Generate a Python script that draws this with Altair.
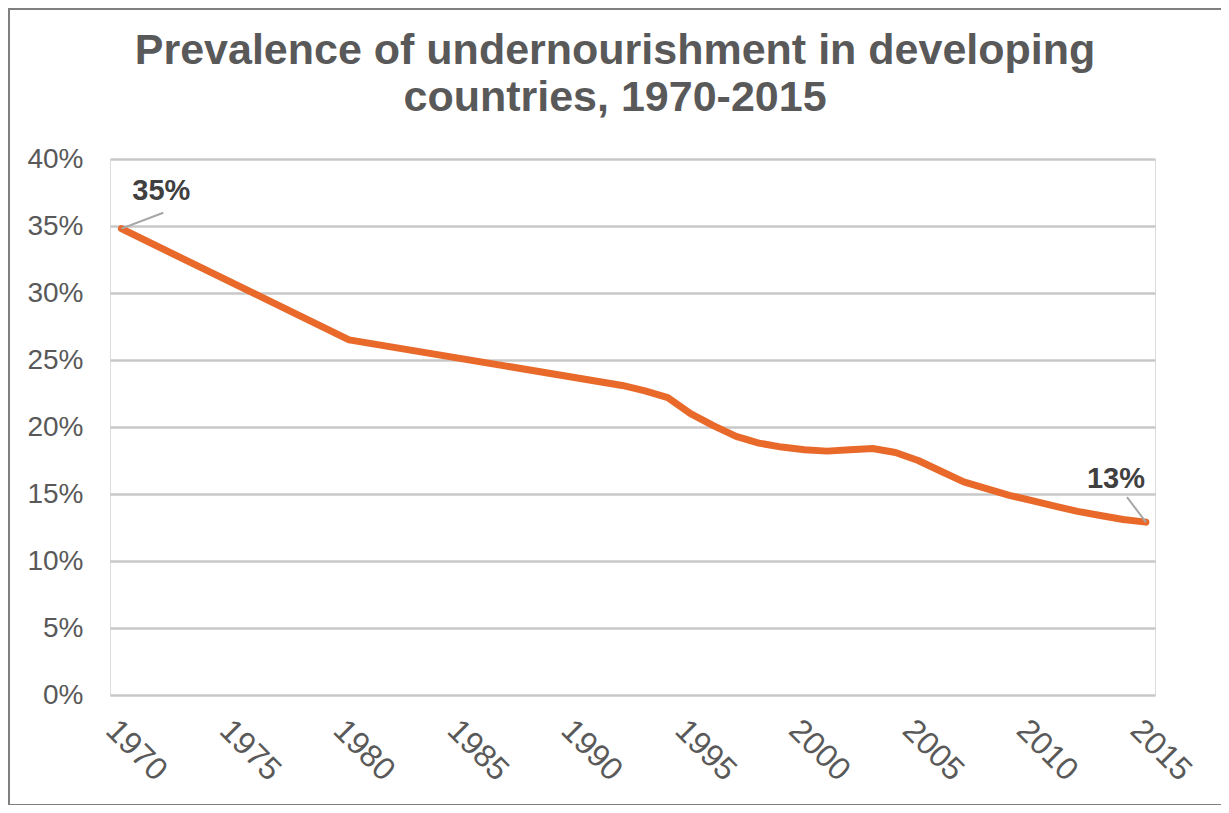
import altair as alt
import pandas as pd

years = [1970, 1980, 1992, 1993, 1994, 1995, 1996, 1997, 1998, 1999, 2000,
         2001, 2002, 2003, 2004, 2005, 2006, 2007, 2008, 2009, 2010, 2011,
         2012, 2013, 2014, 2015]
values = [0.348, 0.265, 0.231, 0.227, 0.222, 0.210, 0.201, 0.193, 0.188,
          0.185, 0.183, 0.182, 0.183, 0.184, 0.181, 0.175, 0.167, 0.159,
          0.154, 0.149, 0.145, 0.141, 0.137, 0.134, 0.131, 0.129]
x_ticks = [1970, 1975, 1980, 1985, 1990, 1995, 2000, 2005, 2010, 2015]
y_ticks = [0, 0.05, 0.10, 0.15, 0.20, 0.25, 0.30, 0.35, 0.40]
label_years = [1970, 2015]
title_lines = ["Prevalence of undernourishment in developing",
               "countries, 1970-2015"]

df = pd.DataFrame({"year": years, "value": values})
lab = df[df["year"].isin(label_years)].copy()

FONT = "Liberation Sans"
GREY = "#595959"

xs = alt.Scale(domain=[1969.5, 2015.4], nice=False, zero=False)
ys = alt.Scale(domain=[0, 0.4], nice=False)

x_axis = alt.Axis(values=x_ticks, format="d", labelAngle=45, labelAlign="left",
                  labelBaseline="top", labelPadding=19, ticks=False, domain=False,
                  grid=False, title=None, labelFontSize=32, labelColor=GREY,
                  labelFont=FONT, labelOverlap=False, labelFlush=False)
y_axis = alt.Axis(values=y_ticks, format=".0%", ticks=False, domain=False,
                  grid=True, gridColor="#c8c8c8", gridWidth=2.5, title=None,
                  labelFontSize=28, labelColor=GREY, labelFont=FONT,
                  labelPadding=27)

line = alt.Chart(df).mark_line(color="#E8692A", strokeWidth=7,
                               interpolate="linear", strokeCap="round",
                               strokeJoin="round").encode(
    x=alt.X("year:Q", scale=xs, axis=x_axis),
    y=alt.Y("value:Q", scale=ys, axis=y_axis),
)

first = lab[lab["year"] == label_years[0]]
last = lab[lab["year"] == label_years[1]]

lead1 = alt.Chart(first).transform_calculate(
    x2="datum.year + 1.84", y2="datum.value + 0.0119"
).mark_rule(color="#a6a6a6", strokeWidth=2).encode(
    x=alt.X("year:Q", scale=xs), y=alt.Y("value:Q", scale=ys),
    x2="x2:Q", y2="y2:Q")
lead2 = alt.Chart(last).transform_calculate(
    x2="datum.year - 0.83", y2="datum.value + 0.0187"
).mark_rule(color="#a6a6a6", strokeWidth=2).encode(
    x=alt.X("year:Q", scale=xs), y=alt.Y("value:Q", scale=ys),
    x2="x2:Q", y2="y2:Q")

txt1 = alt.Chart(first).mark_text(font=FONT, fontSize=29, fontWeight="bold",
                                  color="#404040", dx=40, dy=-38).encode(
    x=alt.X("year:Q", scale=xs), y=alt.Y("value:Q", scale=ys),
    text=alt.Text("value:Q", format=".0%"))
txt2 = alt.Chart(last).mark_text(font=FONT, fontSize=29, fontWeight="bold",
                                 color="#404040", dx=-30, dy=-43).encode(
    x=alt.X("year:Q", scale=xs), y=alt.Y("value:Q", scale=ys),
    text=alt.Text("value:Q", format=".0%"))

title = alt.Chart(first).mark_text(font=FONT, fontSize=43, fontWeight="bold",
                                   color=GREY, align="center", baseline="middle",
                                   lineHeight=47, clip=False).encode(
    x=alt.value(505), y=alt.value(-108), text=alt.value(title_lines))

frame = alt.Chart(first).mark_rect(fill=None, stroke="#7f7f7f", strokeWidth=2,
                                   clip=False).encode(
    x=alt.value(-101), x2=alt.value(1112), y=alt.value(-150), y2=alt.value(646))

chart = alt.layer(frame, line, lead1, lead2, txt1, txt2, title).properties(
    width=1045, height=536,
    autosize=alt.AutoSizeParams(type="none"),
    padding={"left": 102, "top": 151, "right": 66, "bottom": 110},
).configure_view(stroke=None).configure(background="white")

chart.save("out.html", embed_options={"renderer": "svg", "actions": False})
